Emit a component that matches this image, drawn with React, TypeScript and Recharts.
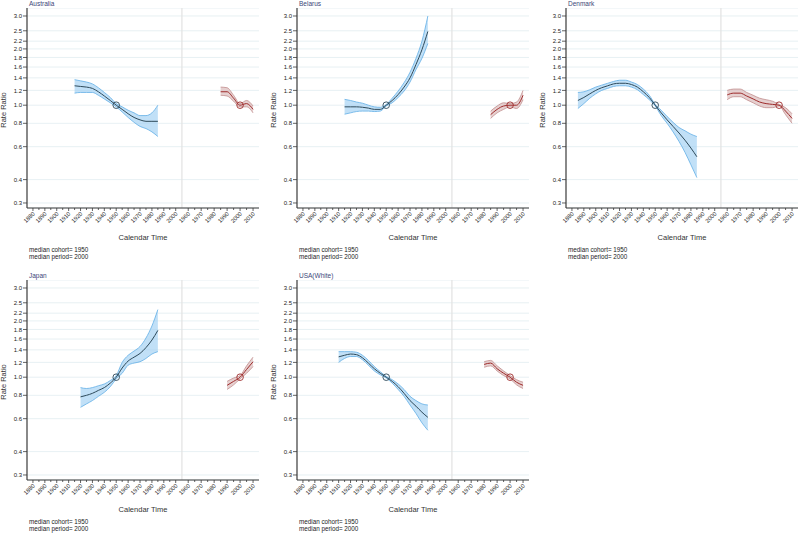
import React from 'react';
import {
  ComposedChart,
  Area,
  Line,
  XAxis,
  YAxis,
  CartesianGrid,
  ReferenceLine,
  ReferenceDot,
} from 'recharts';

// y ticks (log scale) and x tick labels
const Y_TICKS = [0.3, 0.4, 0.6, 0.8, 1.0, 1.2, 1.4, 1.6, 1.8, 2.0, 2.2, 2.5, 3.0];
const COHORT_LABELS = [1880, 1890, 1900, 1910, 1920, 1930, 1940, 1950, 1960, 1970, 1980, 1990, 2000];
const PERIOD_LABELS = [1960, 1970, 1980, 1990, 2000, 2010];

// Australia
const auCohortYears = [1915, 1920, 1925, 1930, 1935, 1940, 1945, 1950, 1955, 1960, 1965, 1970, 1975, 1980, 1985];
const auCohortRR = [1.27, 1.26, 1.25, 1.23, 1.18, 1.12, 1.06, 1.0, 0.95, 0.9, 0.86, 0.835, 0.82, 0.82, 0.82];
const auCohortLo = [1.16, 1.17, 1.17, 1.17, 1.13, 1.08, 1.03, 0.98, 0.92, 0.86, 0.81, 0.77, 0.75, 0.72, 0.68];
const auCohortHi = [1.37, 1.35, 1.33, 1.3, 1.24, 1.17, 1.1, 1.02, 0.98, 0.94, 0.91, 0.88, 0.88, 0.91, 1.0];
const auPeriodYears = [1985, 1990, 1995, 2000, 2005, 2010];
const auPeriodRR = [1.18, 1.18, 1.09, 1.0, 1.02, 0.95];
const auPeriodLo = [1.13, 1.12, 1.05, 0.98, 0.98, 0.91];
const auPeriodHi = [1.25, 1.24, 1.13, 1.02, 1.06, 0.99];

// Belarus
const byCohortYears = [1915, 1920, 1925, 1930, 1935, 1940, 1945, 1950, 1955, 1960, 1965, 1970, 1975, 1980, 1985];
const byCohortRR = [0.98, 0.98, 0.98, 0.975, 0.965, 0.95, 0.95, 1.0, 1.06, 1.14, 1.25, 1.4, 1.65, 1.98, 2.48];
const byCohortLo = [0.895, 0.91, 0.925, 0.93, 0.93, 0.925, 0.93, 0.99, 1.03, 1.1, 1.19, 1.33, 1.55, 1.78, 2.14];
const byCohortHi = [1.075, 1.06, 1.04, 1.025, 1.0, 0.98, 0.975, 1.01, 1.09, 1.19, 1.32, 1.5, 1.78, 2.2, 3.0];
const byPeriodYears = [1985, 1990, 1995, 2000, 2005, 2010];
const byPeriodRR = [0.89, 0.95, 0.99, 1.0, 1.0, 1.13];
const byPeriodLo = [0.85, 0.91, 0.95, 0.98, 0.96, 1.07];
const byPeriodHi = [0.93, 0.99, 1.03, 1.02, 1.04, 1.2];

// Denmark
const dkCohortYears = [1885, 1890, 1895, 1900, 1905, 1910, 1915, 1920, 1925, 1930, 1935, 1940, 1945, 1950, 1955, 1960, 1965, 1970, 1975, 1980, 1985];
const dkCohortRR = [1.06, 1.1, 1.15, 1.2, 1.24, 1.27, 1.3, 1.31, 1.31, 1.29, 1.25, 1.18, 1.1, 1.0, 0.91, 0.835, 0.77, 0.71, 0.65, 0.59, 0.53];
const dkCohortLo = [0.96, 1.02, 1.09, 1.15, 1.2, 1.23, 1.26, 1.27, 1.27, 1.25, 1.21, 1.14, 1.07, 0.99, 0.88, 0.8, 0.72, 0.64, 0.56, 0.48, 0.41];
const dkCohortHi = [1.17, 1.18, 1.21, 1.25, 1.28, 1.31, 1.34, 1.36, 1.36, 1.33, 1.29, 1.22, 1.13, 1.01, 0.94, 0.87, 0.81, 0.76, 0.73, 0.7, 0.68];
const dkPeriodYears = [1960, 1965, 1970, 1975, 1980, 1985, 1990, 1995, 2000, 2005, 2010];
const dkPeriodRR = [1.135, 1.16, 1.16, 1.12, 1.08, 1.04, 1.02, 1.01, 1.0, 0.93, 0.85];
const dkPeriodLo = [1.07, 1.11, 1.11, 1.07, 1.03, 0.99, 0.97, 0.97, 0.99, 0.89, 0.8];
const dkPeriodHi = [1.2, 1.22, 1.22, 1.17, 1.13, 1.09, 1.07, 1.05, 1.01, 0.97, 0.9];

// Japan
const jpCohortYears = [1920, 1925, 1930, 1935, 1940, 1945, 1950, 1955, 1960, 1965, 1970, 1975, 1980, 1985];
const jpCohortRR = [0.785, 0.8, 0.82, 0.85, 0.88, 0.93, 1.0, 1.12, 1.22, 1.28, 1.34, 1.44, 1.58, 1.78];
const jpCohortLo = [0.69, 0.72, 0.75, 0.79, 0.83, 0.89, 0.98, 1.05, 1.16, 1.19, 1.21, 1.26, 1.33, 1.37];
const jpCohortHi = [0.88, 0.87, 0.88, 0.9, 0.92, 0.96, 1.02, 1.2, 1.31, 1.38, 1.46, 1.62, 1.88, 2.3];
const jpPeriodYears = [1990, 1995, 2000, 2005, 2010];
const jpPeriodRR = [0.905, 0.95, 1.0, 1.1, 1.21];
const jpPeriodLo = [0.86, 0.91, 0.98, 1.05, 1.14];
const jpPeriodHi = [0.95, 0.99, 1.02, 1.15, 1.28];

// USA(White)
const usCohortYears = [1910, 1915, 1920, 1925, 1930, 1935, 1940, 1945, 1950, 1955, 1960, 1965, 1970, 1975, 1980, 1985];
const usCohortRR = [1.285, 1.31, 1.33, 1.32, 1.27, 1.19, 1.11, 1.05, 1.0, 0.95, 0.89, 0.82, 0.75, 0.7, 0.65, 0.61];
const usCohortLo = [1.2, 1.26, 1.29, 1.29, 1.24, 1.16, 1.08, 1.03, 0.99, 0.93, 0.86, 0.79, 0.71, 0.64, 0.57, 0.52];
const usCohortHi = [1.37, 1.37, 1.37, 1.36, 1.31, 1.23, 1.14, 1.07, 1.01, 0.97, 0.92, 0.86, 0.79, 0.75, 0.72, 0.71];
const usPeriodYears = [1980, 1985, 1990, 1995, 2000, 2005, 2010];
const usPeriodRR = [1.17, 1.19, 1.11, 1.05, 1.0, 0.94, 0.905];
const usPeriodLo = [1.13, 1.15, 1.08, 1.02, 0.98, 0.91, 0.87];
const usPeriodHi = [1.21, 1.23, 1.15, 1.08, 1.02, 0.97, 0.94];

// period part sits to the right of the cohort part on one shared axis
const PERIOD_ORIGIN = 2010.5;
const PERIOD_STRETCH = 1.09;
const periodPos = (p: number) => PERIOD_ORIGIN + (p - 1960) * PERIOD_STRETCH;
const SEPARATOR = 2005.2;

const tickInfo = new Map<number, { label: string; major: boolean }>();
COHORT_LABELS.forEach((yr, i) => {
  tickInfo.set(yr, { label: String(yr), major: true });
  if (i < COHORT_LABELS.length - 1) tickInfo.set(yr + 5, { label: '', major: false });
});
PERIOD_LABELS.forEach((yr, i) => {
  tickInfo.set(periodPos(yr), { label: String(yr), major: true });
  if (i < PERIOD_LABELS.length - 1) tickInfo.set(periodPos(yr + 5), { label: '', major: false });
});
const X_TICKS = Array.from(tickInfo.keys()).sort((a, b) => a - b);

const FONT = '"Liberation Sans", Arial, sans-serif';
const AXIS = '#3a3a3a';
const TEXT = '#333';

const XTick = (props: any) => {
  const { x, y, payload } = props;
  const info = tickInfo.get(payload.value);
  if (!info) return <g />;
  const ty = y + 5;
  return (
    <g>
      <line x1={x} x2={x} y1={y} y2={y + (info.major ? 3 : 2)} stroke={AXIS} strokeWidth={0.8} />
      {info.label && (
        <text
          x={x + 1}
          y={ty}
          transform={`rotate(-45 ${x + 1} ${ty})`}
          textAnchor="end"
          dy="0.3em"
          fontSize={5.8}
          fill="#2a2a2a"
          fontFamily={FONT}
        >
          {info.label}
        </text>
      )}
    </g>
  );
};

interface PanelProps {
  name: string;
  axisX: number;
  top: number;
  cohortYears: number[];
  cohortRR: number[];
  cohortLo: number[];
  cohortHi: number[];
  periodYears: number[];
  periodRR: number[];
  periodLo: number[];
  periodHi: number[];
}

const Panel = (p: PanelProps) => {
  const rows: any[] = [];
  p.cohortYears.forEach((yr, i) =>
    rows.push({ pos: yr, c: p.cohortRR[i], cBand: [p.cohortLo[i], p.cohortHi[i]] }),
  );
  p.periodYears.forEach((yr, i) =>
    rows.push({ pos: periodPos(yr), p: p.periodRR[i], pBand: [p.periodLo[i], p.periodHi[i]] }),
  );

  return (
    <>
      <div
        style={{
          position: 'absolute',
          left: p.axisX + 2,
          top: p.top - 8,
          fontSize: 6.5,
          lineHeight: '8px',
          color: '#3b4778',
          whiteSpace: 'nowrap',
        }}
      >
        {p.name}
      </div>
      <div
        style={{
          position: 'absolute',
          left: p.axisX - 23 - 30,
          top: p.top + 102 - 5,
          width: 60,
          height: 10,
          lineHeight: '10px',
          textAlign: 'center',
          fontSize: 7.5,
          color: TEXT,
          transform: 'rotate(-90deg)',
        }}
      >
        Rate Ratio
      </div>
      <div style={{ position: 'absolute', left: p.axisX - 22, top: p.top }}>
        <ComposedChart
          width={254}
          height={230}
          data={rows}
          margin={{ top: 0, right: 0, bottom: 0, left: 0 }}
        >
          <CartesianGrid vertical={false} stroke="#e4eef2" strokeWidth={0.9} />
          <XAxis
            type="number"
            dataKey="pos"
            domain={[1875, 2070]}
            ticks={X_TICKS}
            interval={0}
            tick={(tp: any) => <XTick {...tp} />}
            tickLine={false}
            tickSize={0}
            tickMargin={0}
            axisLine={{ stroke: AXIS, strokeWidth: 1.2 }}
            height={30}
            allowDataOverflow
          />
          <YAxis
            type="number"
            scale="log"
            domain={[0.282, 3.31]}
            ticks={Y_TICKS}
            interval={0}
            width={22}
            tickSize={4}
            tickMargin={1}
            tick={{ fontSize: 6, fill: '#222', fontFamily: FONT }}
            tickFormatter={(v: number) => v.toFixed(1)}
            axisLine={{ stroke: AXIS, strokeWidth: 1.2 }}
            tickLine={{ stroke: AXIS, strokeWidth: 0.8 }}
            allowDataOverflow
          />
          <ReferenceLine x={SEPARATOR} stroke="#e2e2e2" strokeWidth={1.2} />
          <Area
            dataKey="cBand"
            type="monotone"
            stroke="#62aee6"
            strokeWidth={0.8}
            fill="#9fcff2"
            fillOpacity={0.65}
            isAnimationActive={false}
          />
          <Line
            dataKey="c"
            type="monotone"
            stroke="#2e4a5a"
            strokeWidth={1}
            dot={false}
            isAnimationActive={false}
          />
          <Area
            dataKey="pBand"
            type="monotone"
            stroke="#c28e8e"
            strokeWidth={0.8}
            fill="#dcbcbc"
            fillOpacity={0.7}
            isAnimationActive={false}
          />
          <Line
            dataKey="p"
            type="monotone"
            stroke="#9e2b2b"
            strokeWidth={1}
            dot={false}
            isAnimationActive={false}
          />
          <ReferenceDot x={1950} y={1} r={3.3} fill="none" stroke="#2e4a5a" strokeWidth={0.9} />
          <ReferenceDot x={periodPos(2000)} y={1} r={3.3} fill="none" stroke="#9e2b2b" strokeWidth={0.9} />
        </ComposedChart>
      </div>
      <div
        style={{
          position: 'absolute',
          left: p.axisX + 116 - 40,
          top: p.top + 225,
          width: 80,
          textAlign: 'center',
          fontSize: 7.5,
          lineHeight: '10px',
          color: TEXT,
        }}
      >
        Calendar Time
      </div>
      <div
        style={{
          position: 'absolute',
          left: p.axisX + 2,
          top: p.top + 237.5,
          fontSize: 6.3,
          lineHeight: '7px',
          color: '#222',
          whiteSpace: 'nowrap',
        }}
      >
        <div>median cohort= 1950</div>
        <div>median period= 2000</div>
      </div>
    </>
  );
};

export default function App() {
  return (
    <div
      style={{
        position: 'absolute',
        left: 0,
        top: 0,
        width: 800,
        height: 533,
        background: '#fff',
        fontFamily: FONT,
        overflow: 'hidden',
      }}
    >
      <Panel
        name="Australia"
        axisX={27}
        top={8}
        cohortYears={auCohortYears}
        cohortRR={auCohortRR}
        cohortLo={auCohortLo}
        cohortHi={auCohortHi}
        periodYears={auPeriodYears}
        periodRR={auPeriodRR}
        periodLo={auPeriodLo}
        periodHi={auPeriodHi}
      />
      <Panel
        name="Belarus"
        axisX={297}
        top={8}
        cohortYears={byCohortYears}
        cohortRR={byCohortRR}
        cohortLo={byCohortLo}
        cohortHi={byCohortHi}
        periodYears={byPeriodYears}
        periodRR={byPeriodRR}
        periodLo={byPeriodLo}
        periodHi={byPeriodHi}
      />
      <Panel
        name="Denmark"
        axisX={566}
        top={8}
        cohortYears={dkCohortYears}
        cohortRR={dkCohortRR}
        cohortLo={dkCohortLo}
        cohortHi={dkCohortHi}
        periodYears={dkPeriodYears}
        periodRR={dkPeriodRR}
        periodLo={dkPeriodLo}
        periodHi={dkPeriodHi}
      />
      <Panel
        name="Japan"
        axisX={27}
        top={280}
        cohortYears={jpCohortYears}
        cohortRR={jpCohortRR}
        cohortLo={jpCohortLo}
        cohortHi={jpCohortHi}
        periodYears={jpPeriodYears}
        periodRR={jpPeriodRR}
        periodLo={jpPeriodLo}
        periodHi={jpPeriodHi}
      />
      <Panel
        name="USA(White)"
        axisX={297}
        top={280}
        cohortYears={usCohortYears}
        cohortRR={usCohortRR}
        cohortLo={usCohortLo}
        cohortHi={usCohortHi}
        periodYears={usPeriodYears}
        periodRR={usPeriodRR}
        periodLo={usPeriodLo}
        periodHi={usPeriodHi}
      />
    </div>
  );
}
